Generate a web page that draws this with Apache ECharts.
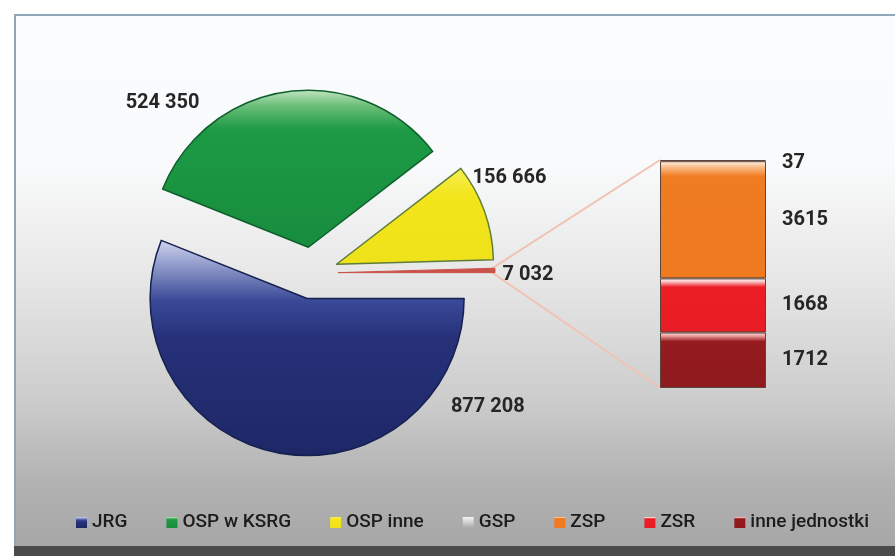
<!DOCTYPE html>
<html><head><meta charset="utf-8">
<script src="https://cdn.jsdelivr.net/npm/echarts@6/dist/echarts.min.js"></script>
<style>
html,body{margin:0;padding:0;background:#fff;width:895px;height:556px;overflow:hidden;}
#bg{position:absolute;left:14px;top:14px;width:881px;height:532px;border-top:2px solid #8fa7b8;border-left:2px solid #8fa7b8;box-sizing:border-box;
background:linear-gradient(to bottom,#fbfcfe 0%,#f9fafb 28%,#e6e6e6 50%,#cdcdcd 72%,#b2b2b2 88%,#a7a7a7 100%);}
#bot{position:absolute;left:14px;top:546px;width:881px;height:10px;background:#4b4b4b;}
#c{position:absolute;left:0;top:0;width:895px;height:556px;}
</style>
</head><body>
<div id="bg"></div><div id="bot"></div>
<div id="c"></div>
<script>
// ---- data ----
const pieNames = ['JRG', 'OSP w KSRG', 'OSP inne', 'pozostałe'];
const pieValues = [877208, 524350, 156666, 7032];
const barNames = ['inne jednostki', 'ZSR', 'ZSP', 'GSP']; // bottom to top
const barValues = [1712, 1668, 3615, 37];
const legendNames = ['JRG', 'OSP w KSRG', 'OSP inne', 'GSP', 'ZSP', 'ZSR', 'inne jednostki'];

// ---- style ----
const FONT = 'Roboto, "Liberation Sans", sans-serif';
const PIE_C = [312, 273], PIE_R = 157, PIE_OFF = 26;
// label placement around the pie centre (angle in degrees, distance in px)
const labelPlace = [ {a: -37.3, d: 221}, {a: 131.4, d: 226}, {a: 25.6, d: 219}, {a: -0.5, d: 216} ];
function lg(stops) {
  return new echarts.graphic.LinearGradient(0, 0, 0, 1, stops.map(s => ({offset: s[0], color: s[1]})));
}
const pieStyles = [
  {color: lg([[0,'#d0d6f0'],[0.28,'#3a4a98'],[0.45,'#263179'],[1,'#1e2766']]), borderColor: '#16204f', borderWidth: 1.5},
  {color: lg([[0,'#c4e6c4'],[0.1,'#6dbf7a'],[0.25,'#1d9a45'],[1,'#178d3d']]), borderColor: '#0f5f2c', borderWidth: 1.5},
  {color: lg([[0,'#f6ee50'],[0.3,'#f2e51a'],[1,'#f0e21a']]), borderColor: '#5d7c3a', borderWidth: 1.5},
  {color: '#c9534a', borderColor: '#c9534a', borderWidth: 1}
];
const barStyles = {
  'inne jednostki': {color: lg([[0,'#fde0e0'],[0.06,'#f0a0a0'],[0.16,'#951b1f'],[1,'#8f1a1d']])},
  'ZSR': {color: lg([[0,'#ffffff'],[0.06,'#fac4c4'],[0.16,'#ec1d25'],[1,'#e81c24']])},
  'ZSP': {color: lg([[0,'#fff1e4'],[0.06,'#f8b47a'],[0.13,'#f07c22'],[1,'#ef7a20']])},
  'GSP': {color: lg([[0,'#f4f4f4'],[1,'#a9a9a9']])}
};
const fmt = v => String(v).replace(/\B(?=(\d{3})+(?!\d))/g, ' ');
const barTotal = barValues.reduce((a, b) => a + b, 0);

const chart = echarts.init(document.getElementById('c'), null, {renderer: 'canvas'});
const option = {
  backgroundColor: 'transparent',
  animation: false,
  legend: {
    data: legendNames, left: 71, top: 508, icon: 'rect', itemWidth: 11, itemHeight: 11, itemGap: 39,
    selectedMode: false,
    itemStyle: {borderWidth: 0},
    textStyle: {fontFamily: FONT, fontSize: 19, fontWeight: 500, color: '#1c1c1c'}
  },
  grid: {left: 660, top: 160, width: 106, height: 228},
  xAxis: {type: 'category', data: ['x'], show: false},
  yAxis: {type: 'value', min: 0, max: barTotal, show: false},
  series: [
    {
      type: 'pie', name: 'pie', center: PIE_C, radius: PIE_R, startAngle: 0, clockwise: true,
      selectedMode: 'multiple', selectedOffset: PIE_OFF, avoidLabelOverlap: false,
      data: pieNames.map((n, i) => ({name: n, value: pieValues[i], selected: true, itemStyle: pieStyles[i]})),
      label: {show: false},
      labelLine: {show: false},
      emphasis: {disabled: true}
    }
  ].concat(barNames.map((n, i) => ({
    type: 'bar', name: n, stack: 'all', data: [barValues[i]], barWidth: '100%',
    itemStyle: Object.assign({borderColor: '#5a463c', borderWidth: 1}, barStyles[n]),
    label: {show: true, position: 'right', distance: 16, formatter: p => String(p.value), fontFamily: FONT, fontSize: 20, fontWeight: 'bold', color: '#262626', offset: [0, n === 'GSP' ? 2 : 0]},
    emphasis: {disabled: true}
  })))
};
chart.setOption(option);

// pie value labels + connector lines, positioned from the library's own layout
const pieData = chart.getModel().getSeriesByIndex(0).getData();
const graphics = [];
pieData.each(idx => {
  const L = labelPlace[idx]; const a = L.a * Math.PI / 180;
  const l = pieData.getItemLayout(idx);
  graphics.push({type: 'text', silent: true, z: 10,
    style: {text: fmt(pieData.get('value', idx)), x: l.cx + L.d * Math.cos(a), y: l.cy - L.d * Math.sin(a),
      align: 'center', verticalAlign: 'middle', font: 'bold 20px ' + FONT, fill: '#262626'}});
});
const lay = pieData.getItemLayout(3);
const mid = (lay.startAngle + lay.endAngle) / 2;
const tip = [lay.cx + (lay.r + PIE_OFF) * Math.cos(mid), lay.cy + (lay.r + PIE_OFF) * Math.sin(mid)];
const gridRect = chart.getModel().getComponent('grid', 0).coordinateSystem.getRect();
const topPt = chart.convertToPixel({gridIndex: 0}, [0, barTotal]);
const botPt = chart.convertToPixel({gridIndex: 0}, [0, 0]);
graphics.push(
  {type: 'polyline', silent: true, z: 1, shape: {points: [[tip[0] - 6, tip[1]], [gridRect.x, topPt[1]]]}, style: {stroke: '#f0c3b2', lineWidth: 2, fill: null}},
  {type: 'polyline', silent: true, z: 1, shape: {points: [[tip[0] - 6, tip[1]], [gridRect.x, botPt[1]]]}, style: {stroke: '#f0c3b2', lineWidth: 2, fill: null}}
);
chart.setOption({graphic: graphics});
</script>
</body></html>
